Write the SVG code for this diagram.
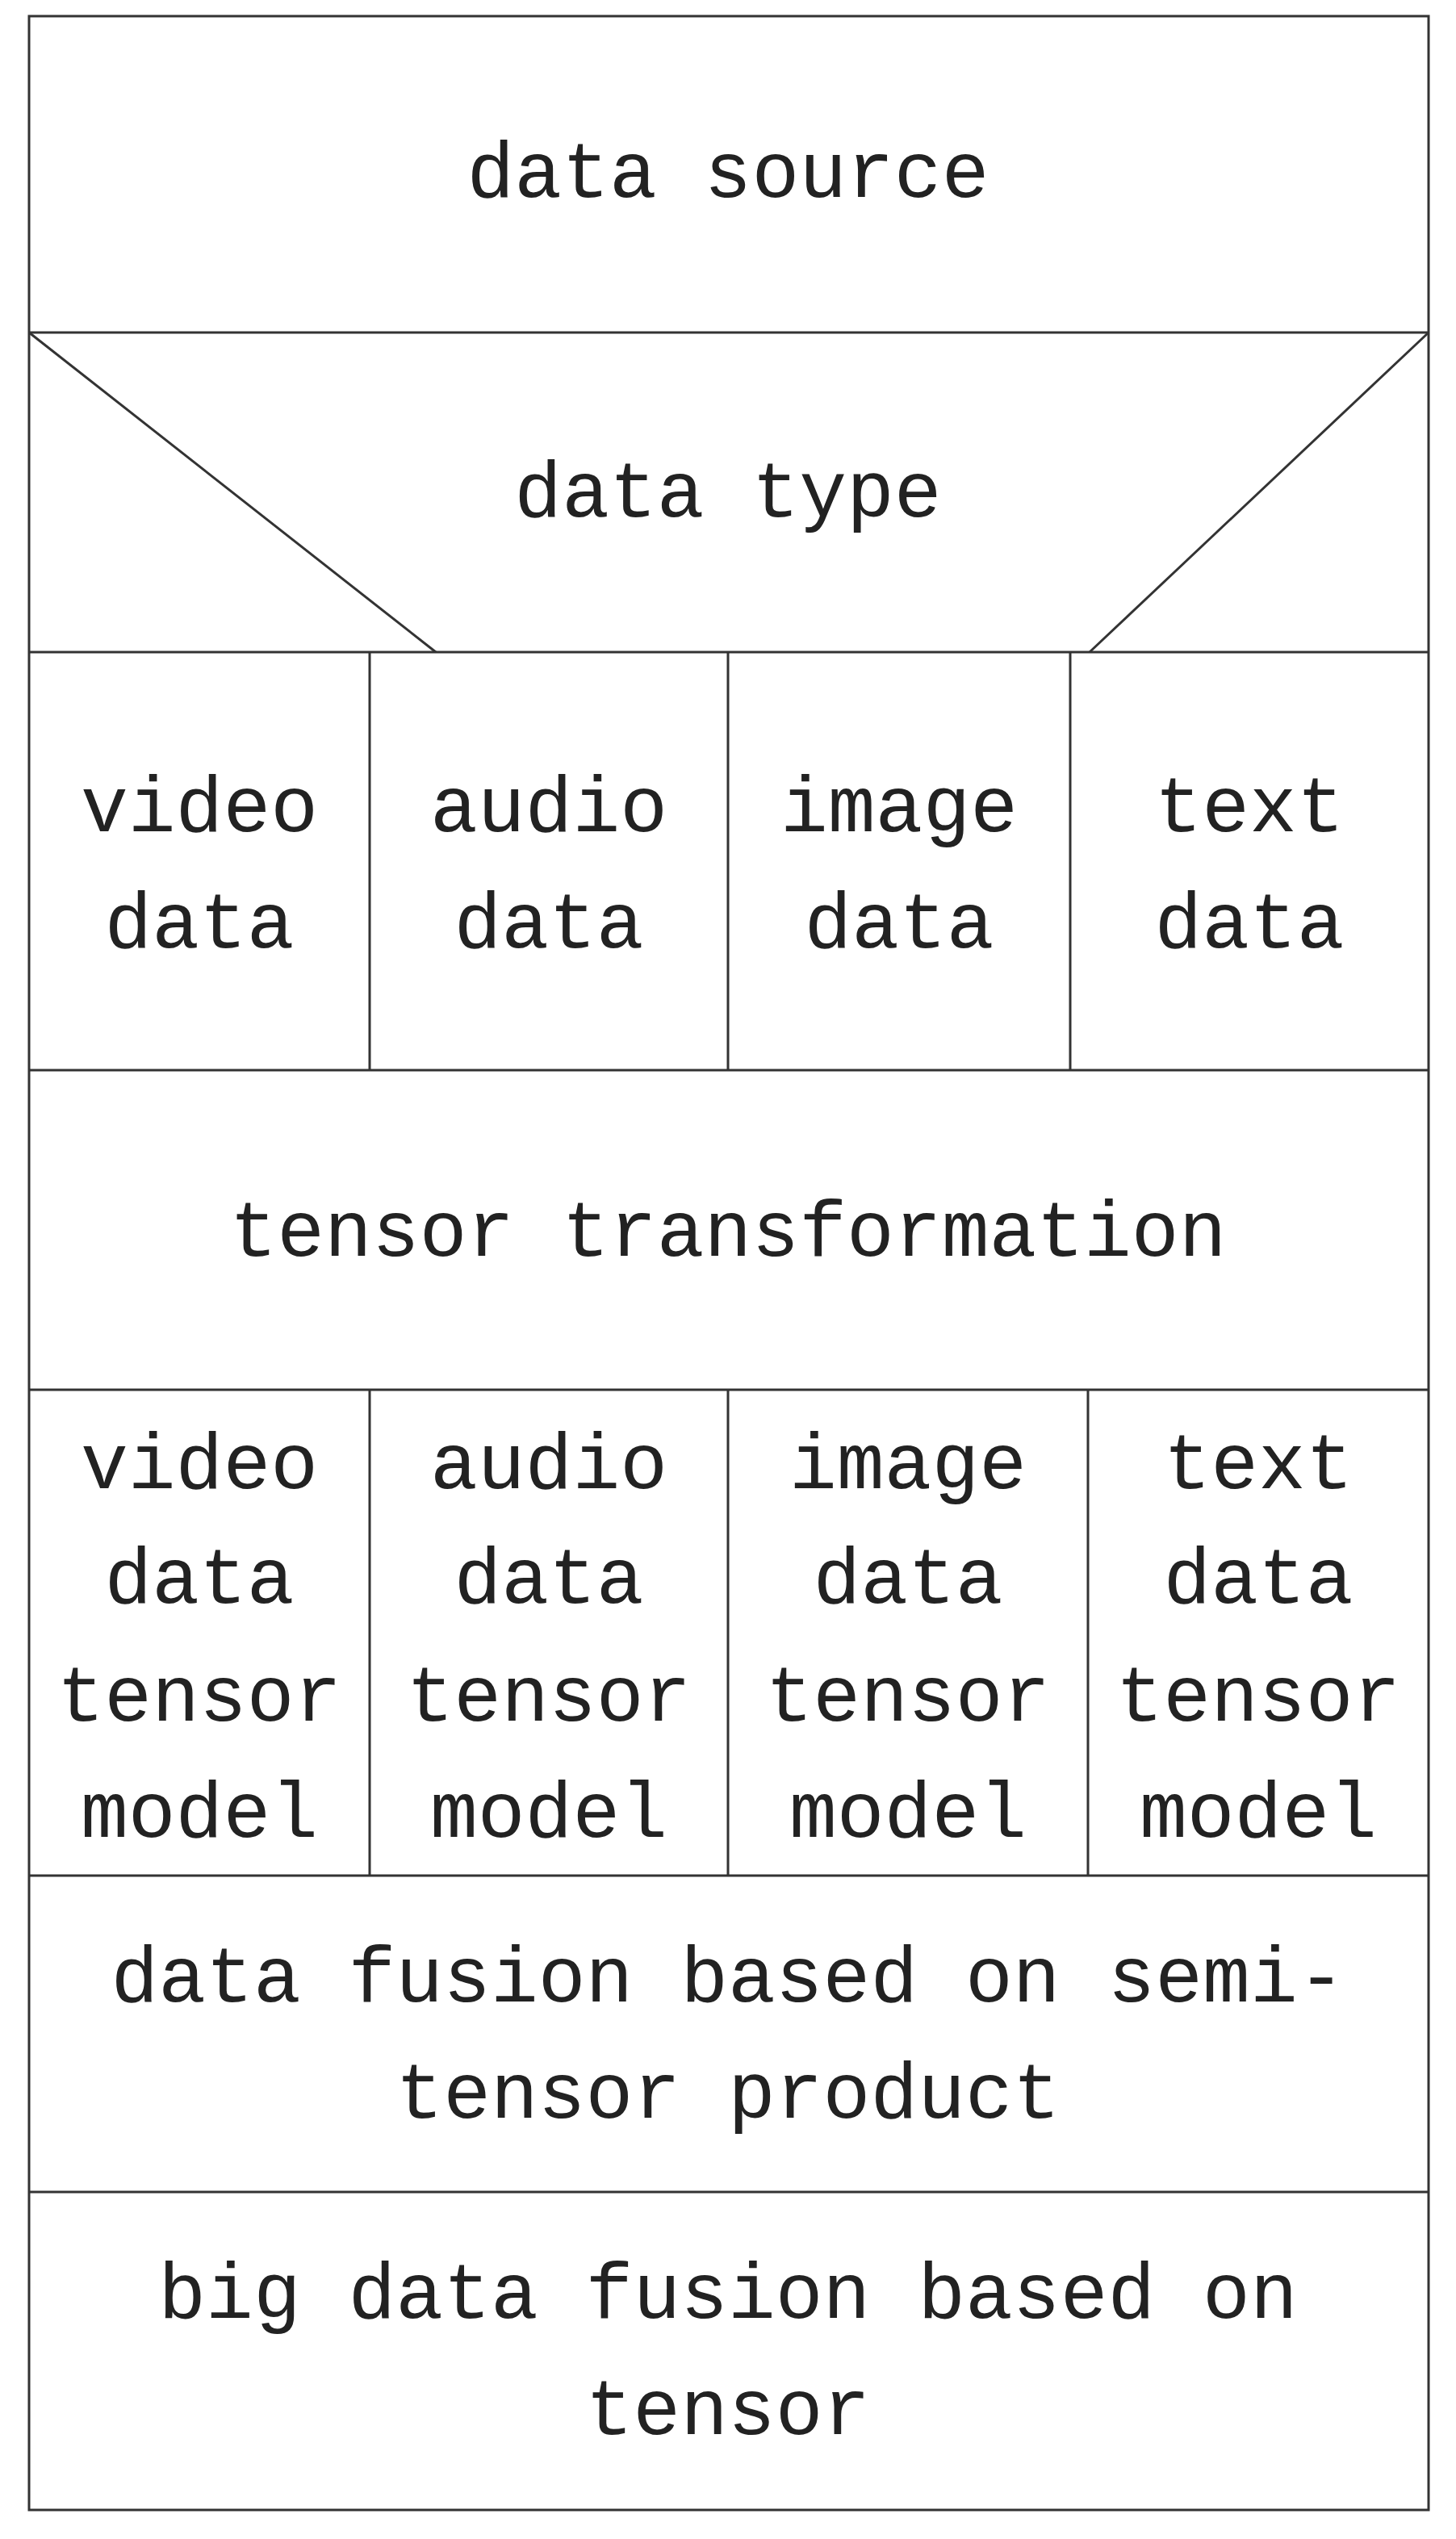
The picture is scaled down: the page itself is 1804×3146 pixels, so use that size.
<svg xmlns="http://www.w3.org/2000/svg" width="1804" height="3146" viewBox="0 0 1804 3146">
<style>
.t{font-family:"Liberation Mono","Noto Sans CJK SC",monospace;font-size:98px;fill:#222;text-anchor:middle}
.l{stroke:#333;stroke-width:3;fill:none}
</style>
<rect width="1804" height="3146" fill="#fff"/>
<g id="connectors">
<rect class="l" x="36" y="20" width="1734" height="3090"/>
<line class="l" x1="36" y1="412" x2="1770" y2="412"/>
<line class="l" x1="36" y1="808" x2="1770" y2="808"/>
<line class="l" x1="36" y1="1326" x2="1770" y2="1326"/>
<line class="l" x1="36" y1="1722" x2="1770" y2="1722"/>
<line class="l" x1="36" y1="2324" x2="1770" y2="2324"/>
<line class="l" x1="36" y1="2716" x2="1770" y2="2716"/>
<line class="l" x1="36" y1="412" x2="540" y2="808"/>
<line class="l" x1="1770" y1="412" x2="1350" y2="808"/>
<line class="l" x1="458" y1="808" x2="458" y2="1326"/>
<line class="l" x1="902" y1="808" x2="902" y2="1326"/>
<line class="l" x1="1326" y1="808" x2="1326" y2="1326"/>
<line class="l" x1="458" y1="1722" x2="458" y2="2324"/>
<line class="l" x1="902" y1="1722" x2="902" y2="2324"/>
<line class="l" x1="1348" y1="1722" x2="1348" y2="2324"/>
</g>
<g id="source"><text class="t" x="902" y="244">data source</text></g>
<g id="type"><text class="t" x="902" y="640">data type</text></g>
<g id="video"><text class="t" x="247" y="1030">video</text><text class="t" x="247" y="1174">data</text></g>
<g id="audio"><text class="t" x="680" y="1030">audio</text><text class="t" x="680" y="1174">data</text></g>
<g id="image"><text class="t" x="1114" y="1030">image</text><text class="t" x="1114" y="1174">data</text></g>
<g id="text"><text class="t" x="1548" y="1030">text</text><text class="t" x="1548" y="1174">data</text></g>
<g id="tensor"><text class="t" x="902" y="1556">tensor transformation</text></g>
<g id="vmodel"><text class="t" x="247" y="1844">video</text><text class="t" x="247" y="1986">data</text><text class="t" x="247" y="2132">tensor</text><text class="t" x="247" y="2276">model</text></g>
<g id="amodel"><text class="t" x="680" y="1844">audio</text><text class="t" x="680" y="1986">data</text><text class="t" x="680" y="2132">tensor</text><text class="t" x="680" y="2276">model</text></g>
<g id="imodel"><text class="t" x="1125" y="1844">image</text><text class="t" x="1125" y="1986">data</text><text class="t" x="1125" y="2132">tensor</text><text class="t" x="1125" y="2276">model</text></g>
<g id="tmodel"><text class="t" x="1559" y="1844">text</text><text class="t" x="1559" y="1986">data</text><text class="t" x="1559" y="2132">tensor</text><text class="t" x="1559" y="2276">model</text></g>
<g id="fusion"><text class="t" x="902" y="2480">data fusion based on semi-</text><text class="t" x="902" y="2624">tensor product</text></g>
<g id="big"><text class="t" x="902" y="2872">big data fusion based on</text><text class="t" x="902" y="3016">tensor</text></g>
</svg>
